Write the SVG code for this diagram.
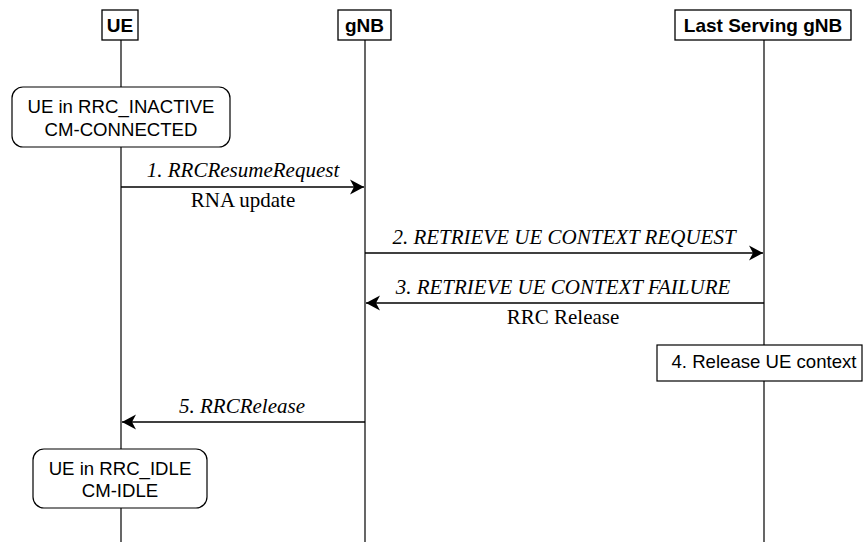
<svg xmlns="http://www.w3.org/2000/svg" width="864" height="542" viewBox="0 0 864 542">
<style>
.life{stroke:#000;stroke-width:1.2;fill:none}
.hdr{fill:#fff;stroke:#000;stroke-width:1.3}
.hdrt{font-family:"Liberation Sans",Arial,sans-serif;font-weight:bold;font-size:19px;text-anchor:middle;fill:#000}
.state{fill:#fff;stroke:#000;stroke-width:1.2}
.st{font-family:"Liberation Sans",Arial,sans-serif;font-size:18.6px;text-anchor:middle;fill:#000}
.msg{stroke:#000;stroke-width:1.3;fill:none;marker-end:url(#arr)}
.ml{font-family:"Liberation Serif","Times New Roman",serif;font-style:italic;font-size:21px;text-anchor:middle;fill:#000}
.mn{font-family:"Liberation Serif","Times New Roman",serif;font-size:21px;text-anchor:middle;fill:#000}
</style>
<defs>
<marker id="arr" viewBox="0 0 16 16" refX="15" refY="8" markerWidth="16" markerHeight="16" markerUnits="userSpaceOnUse" orient="auto">
<path d="M1,0.5 L15,8 L1,15.5 L5,8 Z" fill="#000"/>
</marker>
</defs>
<rect width="864" height="542" fill="#fff"/>
<g id="lifelines">
<line class="life" x1="121" y1="40" x2="121" y2="542"/>
<line class="life" x1="365" y1="40" x2="365" y2="542"/>
<line class="life" x1="764" y1="40" x2="764" y2="542"/>
</g>
<g id="ue">
<rect class="hdr" x="102" y="10" width="36" height="30"/>
<text class="hdrt" x="120" y="32">UE</text>
</g>
<g id="gnb">
<rect class="hdr" x="338" y="10" width="53" height="30"/>
<text class="hdrt" x="364.5" y="32">gNB</text>
</g>
<g id="lsgnb">
<rect class="hdr" x="675" y="10" width="176" height="30"/>
<text class="hdrt" x="763" y="32">Last Serving gNB</text>
</g>
<g id="state-inactive">
<rect class="state" x="12" y="87" width="218" height="60" rx="11" ry="11"/>
<text class="st" x="121" y="113">UE in RRC_INACTIVE</text>
<text class="st" x="121" y="136">CM-CONNECTED</text>
</g>
<g id="release-ctx">
<rect class="state" x="657" y="345" width="205" height="36"/>
<text class="st" x="764" y="368">4. Release UE context</text>
</g>
<g id="state-idle">
<rect class="state" x="33" y="449" width="174" height="59" rx="11" ry="11"/>
<text class="st" x="120" y="475">UE in RRC_IDLE</text>
<text class="st" x="120" y="497">CM-IDLE</text>
</g>
<g id="connectors">
<line class="msg" x1="121" y1="187" x2="364" y2="187"/>
<text class="ml" x="243" y="177">1. RRCResumeRequest</text>
<text class="mn" x="243" y="207">RNA update</text>
<line class="msg" x1="365" y1="253" x2="763" y2="253"/>
<text class="ml" x="564" y="244">2. RETRIEVE UE CONTEXT REQUEST</text>
<line class="msg" x1="764" y1="303" x2="366" y2="303"/>
<text class="ml" x="563" y="294">3. RETRIEVE UE CONTEXT FAILURE</text>
<text class="mn" x="563" y="324">RRC Release</text>
<line class="msg" x1="365" y1="422" x2="122" y2="422"/>
<text class="ml" x="242" y="413">5. RRCRelease</text>
</g>
</svg>
